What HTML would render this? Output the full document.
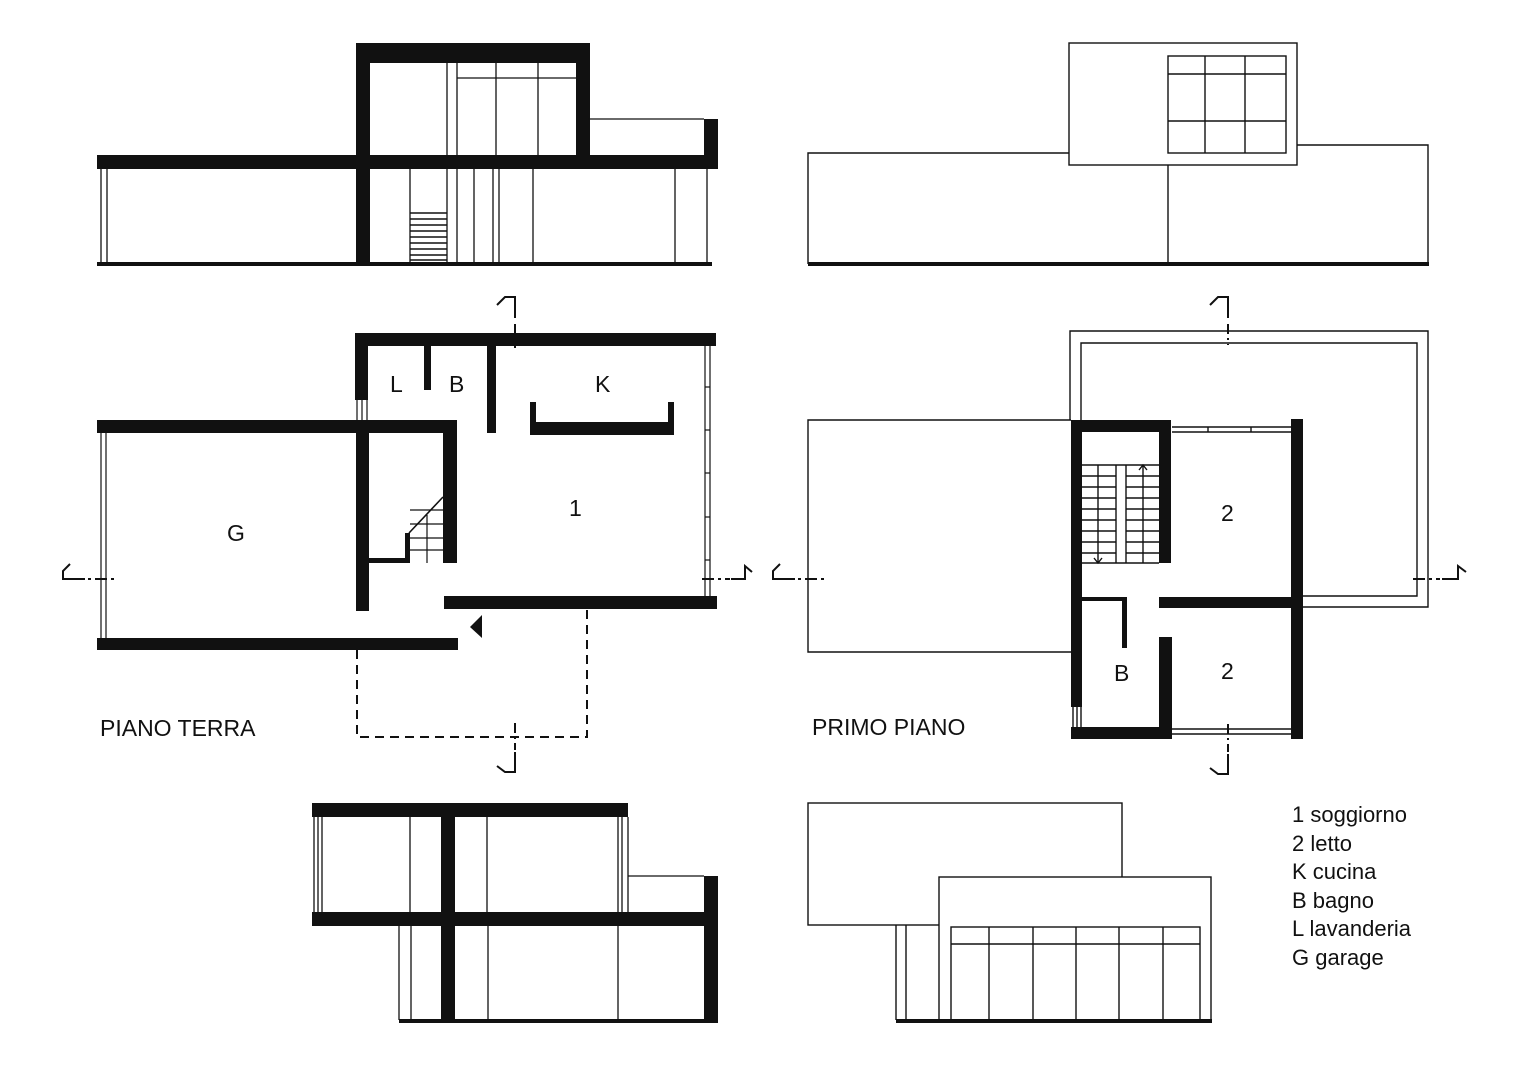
<!DOCTYPE html>
<html><head><meta charset="utf-8"><style>
html,body{margin:0;padding:0;background:#fff;}
svg{display:block}
text{font-family:"Liberation Sans",sans-serif;fill:#111}
</style></head><body>
<svg width="1527" height="1080" viewBox="0 0 1527 1080" xmlns="http://www.w3.org/2000/svg">
<rect width="1527" height="1080" fill="#fff"/>
<g fill="#111" stroke="none">
<rect x="356" y="43" width="232" height="20"/>
<rect x="356" y="43" width="14" height="222"/>
<rect x="576" y="43" width="14" height="115"/>
<rect x="97" y="155" width="621" height="14"/>
<rect x="704" y="119" width="14" height="50"/>
<rect x="97" y="262" width="615" height="4"/>
</g>
<g stroke="#111" stroke-width="1.3" fill="none">
<line x1="588" y1="119" x2="704" y2="119"/>
<line x1="101" y1="169" x2="101" y2="263"/><line x1="107" y1="169" x2="107" y2="263"/>
<line x1="447" y1="63" x2="447" y2="155"/><line x1="457" y1="63" x2="457" y2="155"/>
<line x1="496" y1="63" x2="496" y2="155"/><line x1="538" y1="63" x2="538" y2="155"/>
<line x1="457" y1="78" x2="576" y2="78"/>
<line x1="410" y1="169" x2="410" y2="263"/><line x1="447" y1="169" x2="447" y2="263"/>
<line x1="457" y1="169" x2="457" y2="263"/><line x1="474" y1="169" x2="474" y2="263"/>
<line x1="493" y1="169" x2="493" y2="263"/><line x1="499" y1="169" x2="499" y2="263"/>
<line x1="533" y1="169" x2="533" y2="263"/><line x1="675" y1="169" x2="675" y2="263"/>
<line x1="707" y1="169" x2="707" y2="263"/>
</g>
<g stroke="#111" stroke-width="1.5">
<line x1="410" y1="213" x2="447" y2="213"/><line x1="410" y1="219" x2="447" y2="219"/>
<line x1="410" y1="225" x2="447" y2="225"/><line x1="410" y1="231" x2="447" y2="231"/>
<line x1="410" y1="237" x2="447" y2="237"/><line x1="410" y1="243" x2="447" y2="243"/>
<line x1="410" y1="249" x2="447" y2="249"/><line x1="410" y1="255" x2="447" y2="255"/>
<line x1="410" y1="260" x2="447" y2="260"/>
</g>

<g stroke="#111" stroke-width="1.4" fill="none">
<rect x="1069" y="43" width="228" height="122"/>
<rect x="1168" y="56" width="118" height="97"/>
<line x1="1205" y1="56" x2="1205" y2="153"/><line x1="1245" y1="56" x2="1245" y2="153"/>
<line x1="1168" y1="74" x2="1286" y2="74"/><line x1="1168" y1="121" x2="1286" y2="121"/>
<polyline points="808,264 808,153 1069,153"/>
<polyline points="1297,145 1428,145 1428,264"/>
<line x1="1168" y1="165" x2="1168" y2="264"/>
</g>
<rect x="808" y="262" width="621" height="4" fill="#111"/>

<g fill="#111">
<rect x="355" y="333" width="361" height="13"/>
<rect x="355" y="333" width="13" height="67"/>
<rect x="356" y="420" width="13" height="191"/>
<rect x="424" y="346" width="7" height="44"/>
<rect x="487" y="346" width="9" height="87"/>
<rect x="530" y="422" width="144" height="13"/>
<rect x="530" y="402" width="6" height="33"/>
<rect x="668" y="402" width="6" height="33"/>
<rect x="444" y="596" width="273" height="13"/>
<rect x="97" y="420" width="360" height="13"/>
<rect x="443" y="420" width="14" height="143"/>
<rect x="369" y="558" width="40" height="5"/>
<rect x="405" y="533" width="5" height="30"/>
<rect x="97" y="638" width="361" height="12"/>
<polygon points="482,615 482,638 470,627"/>
</g>
<g stroke="#111" stroke-width="1.2" fill="none">
<line x1="357" y1="400" x2="357" y2="420"/><line x1="362" y1="400" x2="362" y2="420"/><line x1="367" y1="400" x2="367" y2="420"/>
<line x1="705" y1="346" x2="705" y2="596"/><line x1="710" y1="346" x2="710" y2="596"/>
<line x1="705" y1="387" x2="710" y2="387"/><line x1="705" y1="430" x2="710" y2="430"/><line x1="705" y1="473" x2="710" y2="473"/><line x1="705" y1="517" x2="710" y2="517"/><line x1="705" y1="560" x2="710" y2="560"/>
<line x1="101" y1="433" x2="101" y2="638"/><line x1="106" y1="433" x2="106" y2="638"/>
<polyline points="409,533 443,497" stroke-width="1.6"/>
<line x1="410" y1="510" x2="443" y2="510"/><line x1="410" y1="524" x2="443" y2="524"/><line x1="410" y1="538" x2="443" y2="538"/><line x1="410" y1="550" x2="443" y2="550"/>
<line x1="427" y1="515" x2="427" y2="563"/>
</g>
<g stroke="#111" stroke-width="2" fill="none" stroke-dasharray="9,6">
<polyline points="357,650 357,737 587,737 587,609"/>
</g>
<g stroke="#111" stroke-width="2" fill="none">
<polyline points="497,305 505,297 515,297 515,318"/>
<line x1="515" y1="324" x2="515" y2="348" stroke-dasharray="10,4,2,4"/>
<line x1="515" y1="723" x2="515" y2="750" stroke-dasharray="10,4,2,4"/>
<polyline points="515,752 515,772 505,772 497,766"/>
<polyline points="70,564 63,571 63,579 85,579"/>
<line x1="88" y1="579" x2="114" y2="579" stroke-dasharray="3,4,12,4"/>
<line x1="702" y1="579" x2="730" y2="579" stroke-dasharray="12,4,3,4"/>
<polyline points="731,579 745,579 745,566 752,572"/>
<polyline points="1210,305 1218,297 1228,297 1228,318"/>
<line x1="1228" y1="324" x2="1228" y2="345" stroke-dasharray="10,4,2,4"/>
<line x1="1228" y1="724" x2="1228" y2="752" stroke-dasharray="10,4,2,4"/>
<polyline points="1228,754 1228,774 1218,774 1210,768"/>
<polyline points="780,564 773,571 773,579 795,579"/>
<line x1="798" y1="579" x2="824" y2="579" stroke-dasharray="3,4,12,4"/>
<line x1="1413" y1="579" x2="1440" y2="579" stroke-dasharray="12,4,3,4"/>
<polyline points="1442,579 1458,579 1458,566 1466,572"/>
</g>

<g stroke="#111" stroke-width="1.4" fill="none">
<polyline points="1070,420 1070,331 1428,331 1428,607 1303,607"/>
<polyline points="1081,420 1081,343 1417,343 1417,596 1303,596"/>
<polyline points="1071,420 808,420 808,652 1071,652"/>
<line x1="1172" y1="427" x2="1291" y2="427"/><line x1="1172" y1="432" x2="1291" y2="432"/>
<line x1="1172" y1="729" x2="1291" y2="729"/><line x1="1172" y1="734" x2="1291" y2="734"/>
<line x1="1208" y1="427" x2="1208" y2="432"/><line x1="1251" y1="427" x2="1251" y2="432"/>
<line x1="1073" y1="707" x2="1073" y2="727"/><line x1="1077" y1="707" x2="1077" y2="727"/><line x1="1081" y1="707" x2="1081" y2="727"/>
<line x1="1082" y1="465" x2="1159" y2="465"/>
<line x1="1082" y1="563" x2="1159" y2="563"/>
<line x1="1098" y1="465" x2="1098" y2="563"/>
<line x1="1116" y1="465" x2="1116" y2="563"/>
<line x1="1126" y1="465" x2="1126" y2="563"/>
<line x1="1143" y1="465" x2="1143" y2="563"/>
<line x1="1082" y1="476" x2="1116" y2="476"/><line x1="1126" y1="476" x2="1159" y2="476"/>
<line x1="1082" y1="487" x2="1116" y2="487"/><line x1="1126" y1="487" x2="1159" y2="487"/>
<line x1="1082" y1="498" x2="1116" y2="498"/><line x1="1126" y1="498" x2="1159" y2="498"/>
<line x1="1082" y1="509" x2="1116" y2="509"/><line x1="1126" y1="509" x2="1159" y2="509"/>
<line x1="1082" y1="520" x2="1116" y2="520"/><line x1="1126" y1="520" x2="1159" y2="520"/>
<line x1="1082" y1="531" x2="1116" y2="531"/><line x1="1126" y1="531" x2="1159" y2="531"/>
<line x1="1082" y1="542" x2="1116" y2="542"/><line x1="1126" y1="542" x2="1159" y2="542"/>
<line x1="1082" y1="553" x2="1116" y2="553"/><line x1="1126" y1="553" x2="1159" y2="553"/>
<polyline points="1139,470 1143,465 1147,470"/>
<polyline points="1094,558 1098,563 1102,558"/>
</g>
<g fill="#111">
<rect x="1071" y="420" width="11" height="287"/>
<rect x="1071" y="420" width="100" height="12"/>
<rect x="1159" y="420" width="12" height="143"/>
<rect x="1071" y="727" width="101" height="12"/>
<rect x="1291" y="419" width="12" height="320"/>
<rect x="1159" y="597" width="144" height="11"/>
<rect x="1159" y="637" width="13" height="102"/>
<rect x="1082" y="597" width="45" height="4"/>
<rect x="1122" y="597" width="5" height="51"/>
</g>

<g fill="#111">
<rect x="312" y="803" width="316" height="14"/>
<rect x="312" y="912" width="406" height="14"/>
<rect x="441" y="803" width="14" height="220"/>
<rect x="704" y="876" width="14" height="147"/>
<rect x="399" y="1019" width="319" height="4"/>
</g>
<g stroke="#111" stroke-width="1.3" fill="none">
<line x1="628" y1="876" x2="704" y2="876"/>
<line x1="314" y1="817" x2="314" y2="912"/><line x1="318" y1="817" x2="318" y2="912"/><line x1="322" y1="817" x2="322" y2="912"/>
<line x1="410" y1="817" x2="410" y2="912"/><line x1="487" y1="817" x2="487" y2="912"/>
<line x1="618" y1="817" x2="618" y2="912"/><line x1="622" y1="817" x2="622" y2="912"/><line x1="628" y1="817" x2="628" y2="912"/>
<line x1="399" y1="926" x2="399" y2="1020"/><line x1="411" y1="926" x2="411" y2="1020"/>
<line x1="488" y1="926" x2="488" y2="1020"/><line x1="618" y1="926" x2="618" y2="1020"/>
</g>

<g stroke="#111" stroke-width="1.4" fill="none">
<rect x="808" y="803" width="314" height="122"/>
<rect x="939" y="877" width="272" height="145" fill="#fff"/>
<rect x="951" y="927" width="249" height="93"/>
<line x1="951" y1="944" x2="1200" y2="944"/>
<line x1="989" y1="927" x2="989" y2="1020"/><line x1="1033" y1="927" x2="1033" y2="1020"/>
<line x1="1076" y1="927" x2="1076" y2="1020"/><line x1="1119" y1="927" x2="1119" y2="1020"/>
<line x1="1163" y1="927" x2="1163" y2="1020"/>
<line x1="896" y1="925" x2="896" y2="1020"/><line x1="906" y1="925" x2="906" y2="1020"/>
</g>
<rect x="896" y="1019" width="316" height="4" fill="#111"/>

<g font-size="23">
<text x="390" y="392">L</text>
<text x="449" y="392">B</text>
<text x="595" y="392">K</text>
<text x="569" y="516">1</text>
<text x="227" y="541">G</text>
<text x="1221" y="521">2</text>
<text x="1221" y="679">2</text>
<text x="1114" y="681">B</text>
<text x="100" y="736">PIANO TERRA</text>
<text x="812" y="735">PRIMO PIANO</text>
</g>
<g font-size="22">
<text x="1292" y="822">1 soggiorno</text>
<text x="1292" y="851">2 letto</text>
<text x="1292" y="879">K cucina</text>
<text x="1292" y="908">B bagno</text>
<text x="1292" y="936">L lavanderia</text>
<text x="1292" y="965">G garage</text>
</g>
</svg>
</body></html>
